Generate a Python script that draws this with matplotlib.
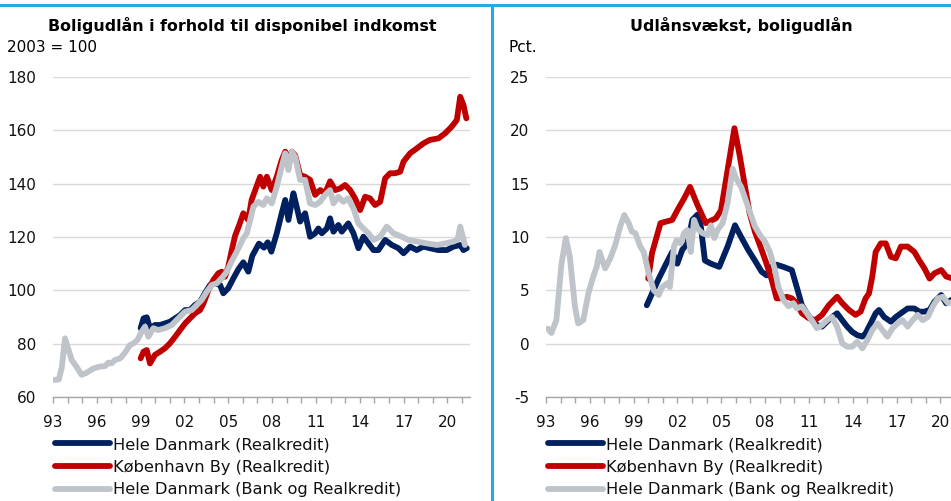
import matplotlib.pyplot as plt
from matplotlib.lines import Line2D

plt.rcParams['font.family'] = ['DejaVu Sans']
plt.rcParams['axes.unicode_minus'] = False

navy_col = '#002060'
red_col = '#C00000'
gray_col = '#BEC4C9'
frame_col = '#29A9E0'

# ---- left panel: Boligudlån i forhold til disponibel indkomst (2003 = 100)
left_navy_x = [1999.0, 1999.2, 1999.42, 1999.64, 1999.98, 2000.33, 2000.67, 2001.0, 2001.36, 2001.7,
               2002.04, 2002.38, 2002.72, 2003.07, 2003.4, 2003.75, 2004.1, 2004.44, 2004.66, 2005.0,
               2005.35, 2005.7, 2006.03, 2006.37, 2006.65, 2007.1, 2007.45, 2007.7, 2007.95, 2008.32,
               2008.66, 2008.9, 2009.12, 2009.46, 2009.68, 2009.92, 2010.26, 2010.6, 2010.95, 2011.17,
               2011.4, 2011.75, 2011.97, 2012.2, 2012.54, 2012.77, 2013.22, 2013.57, 2013.91, 2014.25,
               2014.6, 2014.94, 2015.28, 2015.74, 2016.2, 2016.65, 2017.0, 2017.45, 2017.9, 2018.36,
               2018.8, 2019.39, 2019.96, 2020.42, 2020.88, 2021.1, 2021.33]
left_navy = [85.8, 89.5, 89.9, 85.8, 87.0, 87.0, 87.6, 88.2, 89.5, 90.7,
             92.6, 92.6, 94.5, 95.7, 98.9, 102.0, 102.6, 102.0, 98.9, 100.8,
             104.5, 108.0, 110.5, 107.0, 113.0, 117.5, 116.0, 118.0, 114.5, 121.4,
             128.9, 133.9, 126.4, 136.4, 131.4, 125.8, 128.9, 120.1, 121.4, 123.2,
             121.4, 123.2, 127.0, 122.0, 124.5, 122.0, 125.1, 121.4, 115.8, 120.1,
             117.6, 115.1, 115.1, 118.9, 117.0, 115.8, 113.9, 116.4, 115.1, 116.4,
             115.8, 115.1, 115.1, 116.4, 117.0, 115.1, 115.8]

left_red_x = [1999.0, 1999.2, 1999.42, 1999.64, 1999.98, 2000.33, 2000.67, 2001.0, 2001.36, 2001.7,
              2002.04, 2002.38, 2002.72, 2003.07, 2003.3, 2003.64, 2003.98, 2004.32, 2004.55, 2004.78,
              2005.0, 2005.24, 2005.47, 2005.75, 2006.03, 2006.37, 2006.6, 2007.18, 2007.4, 2007.64,
              2007.98, 2008.32, 2008.66, 2008.9, 2009.12, 2009.35, 2009.58, 2009.92, 2010.26, 2010.6,
              2010.95, 2011.29, 2011.63, 2011.97, 2012.32, 2012.66, 2013.0, 2013.34, 2013.68, 2014.03,
              2014.37, 2014.7, 2015.05, 2015.4, 2015.74, 2016.08, 2016.42, 2016.77, 2017.0, 2017.45,
              2017.9, 2018.36, 2018.8, 2019.39, 2019.85, 2020.3, 2020.65, 2020.88, 2021.1, 2021.3]
left_red = [74.5, 77.0, 77.6, 72.6, 75.8, 77.0, 78.3, 80.1, 82.6, 85.1,
            87.6, 89.5, 91.4, 92.6, 95.1, 100.1, 103.9, 106.4, 107.0, 105.1,
            108.9, 115.1, 120.5, 124.5, 128.9, 126.4, 133.9, 142.6, 138.9, 142.6,
            137.6, 142.6, 148.9, 152.0, 148.9, 152.0, 150.6, 143.2, 142.6, 141.4,
            135.8, 137.6, 136.4, 140.9, 137.6, 138.2, 139.5, 137.6, 134.5, 130.1,
            135.1, 134.5, 132.0, 133.2, 142.0, 143.9, 143.9, 144.5, 148.3, 151.4,
            153.2, 155.1, 156.4, 157.0, 158.9, 161.4, 163.9, 172.6, 169.5, 164.5]

left_gray_x = [1993.1, 1993.4, 1993.6, 1993.82, 1994.28, 1994.6, 1994.96, 1995.3, 1995.76, 1996.2,
               1996.56, 1996.8, 1997.0, 1997.25, 1997.6, 1997.9, 1998.27, 1998.5, 1998.78, 1999.07,
               1999.3, 1999.53, 1999.87, 2000.2, 2000.67, 2001.13, 2001.58, 2002.04, 2002.5, 2002.84,
               2003.18, 2003.53, 2003.87, 2004.2, 2004.55, 2004.9, 2005.24, 2005.58, 2006.03, 2006.27,
               2006.5, 2006.72, 2007.06, 2007.4, 2007.64, 2007.98, 2008.32, 2008.66, 2008.9, 2009.12,
               2009.35, 2009.58, 2009.92, 2010.26, 2010.6, 2010.95, 2011.29, 2011.63, 2011.97, 2012.2,
               2012.54, 2012.88, 2013.2, 2013.57, 2013.91, 2014.25, 2014.6, 2014.94, 2015.4, 2015.85,
               2016.3, 2016.88, 2017.33, 2017.9, 2018.6, 2019.28, 2019.85, 2020.42, 2020.7, 2020.88,
               2021.2]
left_gray = [66.4, 66.6, 71.0, 82.0, 73.9, 71.4, 68.3, 69.1, 70.7, 71.4,
             71.6, 72.9, 72.6, 73.9, 74.5, 76.4, 79.5, 80.1, 81.4, 84.5,
             86.4, 82.6, 85.8, 85.1, 85.8, 87.0, 89.5, 92.0, 92.6, 94.5,
             96.4, 99.5, 102.0, 102.6, 104.5, 107.0, 111.0, 114.5, 119.5, 121.4,
             126.4, 131.4, 133.2, 132.0, 134.5, 132.6, 138.9, 146.4, 151.4, 145.1,
             152.0, 150.1, 141.4, 141.4, 132.6, 132.0, 133.2, 135.8, 137.6, 132.6,
             135.1, 133.2, 134.5, 130.7, 125.1, 123.2, 121.4, 118.9, 120.1, 123.9,
             121.4, 120.1, 118.9, 118.3, 117.6, 117.0, 117.6, 118.3, 119.0, 123.9,
             117.0]

# ---- right panel: Udlånsvækst, boligudlån (pct.)
right_navy_x = [1999.9, 2000.26, 2000.72, 2001.19, 2001.64, 2001.99, 2002.33, 2002.68, 2003.02, 2003.37,
                2003.6, 2003.88, 2004.29, 2004.86, 2005.43, 2005.94, 2006.36, 2006.84, 2007.3, 2007.76,
                2008.1, 2008.45, 2008.79, 2009.25, 2009.83, 2010.17, 2010.52, 2010.86, 2011.2, 2011.55,
                2011.9, 2012.24, 2012.59, 2012.93, 2013.28, 2013.62, 2013.97, 2014.31, 2014.66, 2014.88,
                2015.23, 2015.57, 2015.8, 2016.15, 2016.61, 2016.95, 2017.3, 2017.76, 2018.22, 2018.56,
                2018.91, 2019.26, 2019.6, 2020.06, 2020.4, 2020.75, 2021.2]
right_navy = [3.6, 4.7, 6.1, 7.4, 8.6, 7.5, 8.8, 9.4, 11.6, 12.1,
              11.0, 7.8, 7.5, 7.2, 9.1, 11.1, 10.0, 8.8, 7.8, 6.75,
              6.4, 7.2, 7.4, 7.2, 6.9, 5.3, 3.6, 2.85, 2.2, 1.75,
              1.6, 2.06, 2.5, 2.85, 2.2, 1.6, 1.1, 0.8, 0.66, 0.97,
              1.9, 2.85, 3.16, 2.5, 2.06, 2.5, 2.85, 3.3, 3.3, 3.0,
              3.0, 3.16, 3.94, 4.56, 3.78, 4.1, 4.3]

right_red_x = [2000.0, 2000.26, 2000.84, 2001.64, 2001.99, 2002.45, 2002.86, 2003.37, 2003.94, 2004.63,
               2004.98, 2005.4, 2005.9, 2006.24, 2006.59, 2006.93, 2007.3, 2007.76, 2008.1, 2008.45,
               2008.79, 2009.14, 2009.48, 2009.83, 2010.17, 2010.52, 2010.98, 2011.43, 2011.9, 2012.36,
               2012.93, 2013.28, 2013.74, 2014.19, 2014.54, 2014.88, 2015.11, 2015.34, 2015.57, 2015.92,
               2016.26, 2016.61, 2016.95, 2017.3, 2017.76, 2018.22, 2018.56, 2018.91, 2019.26, 2019.6,
               2020.06, 2020.4, 2020.86, 2021.2]
right_red = [6.1, 8.5, 11.3, 11.6, 12.5, 13.6, 14.7, 13.0, 11.3, 11.75,
             12.5, 16.0, 20.2, 17.8, 15.0, 12.3, 10.5, 8.8, 7.5, 6.0,
             4.25, 4.25, 4.4, 4.25, 3.8, 2.85, 2.4, 2.2, 2.7, 3.6,
             4.4, 3.8, 3.16, 2.7, 3.0, 4.25, 4.7, 6.3, 8.6, 9.4,
             9.4, 8.15, 8.0, 9.1, 9.1, 8.6, 7.8, 7.06, 6.1, 6.6,
             6.9, 6.3, 6.1, 7.0]

right_gray_x = [1993.14, 1993.37, 1993.71, 1994.06, 1994.36, 1994.63, 1994.98, 1995.2, 1995.55, 1995.9,
                1996.24, 1996.47, 1996.66, 1997.05, 1997.4, 1997.74, 1998.08, 1998.36, 1998.66, 1998.88,
                1999.12, 1999.46, 1999.69, 2000.03, 2000.38, 2000.72, 2000.95, 2001.3, 2001.48, 2001.76,
                2001.94, 2002.22, 2002.45, 2002.68, 2002.91, 2003.14, 2003.37, 2003.71, 2004.06, 2004.29,
                2004.52, 2004.75, 2005.09, 2005.43, 2005.78, 2006.01, 2006.36, 2006.84, 2007.3, 2007.64,
                2007.99, 2008.33, 2008.68, 2008.91, 2009.25, 2009.6, 2009.94, 2010.17, 2010.52, 2010.86,
                2011.2, 2011.55, 2011.9, 2012.24, 2012.59, 2012.93, 2013.28, 2013.62, 2013.97, 2014.31,
                2014.66, 2015.0, 2015.34, 2015.69, 2016.03, 2016.38, 2016.72, 2017.07, 2017.41, 2017.76,
                2018.1, 2018.45, 2018.79, 2019.14, 2019.48, 2019.83, 2020.17, 2020.52, 2020.86, 2021.2]
right_gray = [1.4, 1.0, 2.2, 7.5, 9.9, 8.15, 3.5, 1.9, 2.2, 4.7,
              6.3, 7.2, 8.6, 7.06, 8.0, 9.25, 11.0, 12.06, 11.3, 10.5,
              10.35, 9.1, 8.6, 6.6, 5.0, 4.56, 5.3, 5.66, 5.3, 9.1,
              9.7, 9.4, 10.35, 10.66, 8.6, 11.6, 10.8, 10.35, 10.2, 11.1,
              9.9, 10.66, 11.3, 13.2, 16.4, 15.5, 14.7, 12.8, 11.0, 10.2,
              9.56, 8.6, 6.9, 5.3, 4.1, 3.5, 3.8, 3.3, 3.5, 2.85,
              2.2, 1.44, 1.75, 2.2, 2.5, 1.6, 0.03, -0.28, -0.28, 0.19,
              -0.44, 0.34, 1.28, 1.9, 1.28, 0.66, 1.44, 1.9, 2.2, 1.6,
              2.2, 2.7, 2.2, 2.5, 3.5, 4.25, 4.4, 3.8, 3.9, 3.6]

series_labels = ['Hele Danmark (Realkredit)', 'København By (Realkredit)',
                 'Hele Danmark (Bank og Realkredit)']
tick_years = [1993, 1996, 1999, 2002, 2005, 2008, 2011, 2014, 2017, 2020]
tick_labels = ['93', '96', '99', '02', '05', '08', '11', '14', '17', '20']
minor_years = list(range(1993, 2022))

fig = plt.figure(figsize=(9.51, 5.01), dpi=100)

W, H = 951, 501
ax_l = fig.add_axes([53 / W, 1 - 397 / H, 417 / W, 320 / H])
ax_r = fig.add_axes([546 / W, 1 - 397 / H, 417 / W, 320 / H])


def style(ax, ylim, yticks):
    ax.set_xlim(1993, 2021.55)
    ax.set_ylim(*ylim)
    ax.set_yticks(yticks)
    ax.set_xticks(tick_years)
    ax.set_xticklabels(tick_labels)
    ax.set_xticks(minor_years, minor=True)
    for s in ['top', 'right', 'left']:
        ax.spines[s].set_visible(False)
    ax.spines['bottom'].set_color('#A6A6A6')
    ax.spines['bottom'].set_linewidth(1.0)
    ax.grid(axis='y', color='#D9D9D9', linewidth=1.0)
    ax.set_axisbelow(True)
    ax.tick_params(axis='y', length=0, pad=12, labelsize=11, labelcolor='#111111')
    ax.tick_params(axis='x', which='both', direction='out', length=4, width=1,
                   color='#A6A6A6', pad=9, labelsize=11, labelcolor='#111111')


def draw(ax, navy, red, gray):
    kw = dict(linewidth=4.2, solid_capstyle='round', solid_joinstyle='round')
    ax.plot(navy[0], navy[1], color=navy_col, label=series_labels[0], **kw)
    ax.plot(red[0], red[1], color=red_col, label=series_labels[1], **kw)
    ax.plot(gray[0], gray[1], color=gray_col, label=series_labels[2], **kw)


draw(ax_l, (left_navy_x, left_navy), (left_red_x, left_red), (left_gray_x, left_gray))
draw(ax_r, (right_navy_x, right_navy), (right_red_x, right_red), (right_gray_x, right_gray))
style(ax_l, (60, 180), range(60, 181, 20))
style(ax_r, (-5, 25), range(-5, 26, 5))

# titles and units
fig.text(242 / W, 1 - 25 / H, 'Boligudlån i forhold til disponibel indkomst',
         ha='center', va='center', fontsize=11.4, fontweight='bold')
fig.text(741 / W, 1 - 25 / H, 'Udlånsvækst, boligudlån',
         ha='center', va='center', fontsize=11.4, fontweight='bold')
fig.text(7 / W, 1 - 48 / H, '2003 = 100', ha='left', va='center', fontsize=11)
fig.text(508 / W, 1 - 48 / H, 'Pct.', ha='left', va='center', fontsize=11)

# legends
for ax, x0 in [(ax_l, 55), (ax_r, 548)]:
    leg = ax.legend(loc='upper left', bbox_to_anchor=(x0 / W, 1 - 437 / H),
                    bbox_transform=fig.transFigure, frameon=False, fontsize=11.7,
                    handlelength=3.4, handletextpad=0.15, labelspacing=0.47,
                    borderpad=0, borderaxespad=0)
    for t in leg.get_texts():
        t.set_color('#111111')

# blue frame lines
fig.add_artist(Line2D([0, 1], [1 - 5 / H, 1 - 5 / H], color=frame_col, linewidth=2.2))
fig.add_artist(Line2D([492 / W, 492 / W], [0, 1 - 5 / H], color=frame_col, linewidth=2.2))

plt.savefig('out.png', dpi=100)
